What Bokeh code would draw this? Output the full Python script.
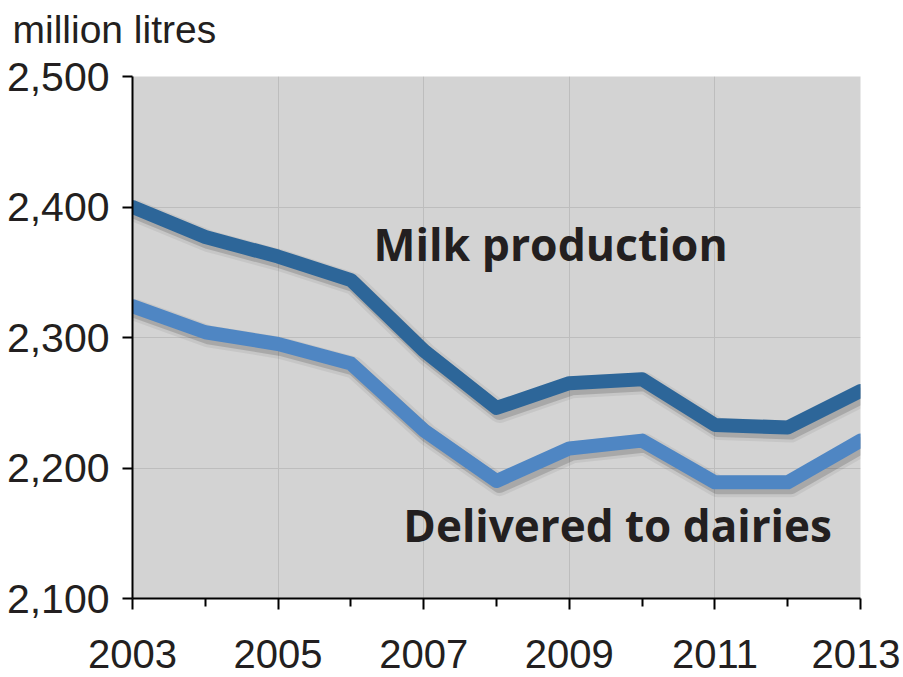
from bokeh.plotting import figure
from bokeh.models import FixedTicker, NumeralTickFormatter, Range1d, Label
from bokeh.embed import file_html
from bokeh.resources import INLINE

years = [2003, 2004, 2005, 2006, 2007, 2008, 2009, 2010, 2011, 2012, 2013]
milk_production = [2400, 2377, 2362, 2344, 2290, 2246, 2265, 2268, 2233, 2231, 2259]
delivered_to_dairies = [2324, 2304, 2295, 2280, 2229, 2190, 2215, 2221, 2189, 2189, 2221]
x_major_ticks = [2003, 2005, 2007, 2009, 2011, 2013]
x_minor_ticks = [2004, 2006, 2008, 2010, 2012]
y_ticks = [2100, 2200, 2300, 2400, 2500]

FONT = "Liberation Sans"
TXT = "#231F20"

p = figure(width=900, height=677, output_backend="svg", toolbar_location=None,
           x_range=Range1d(2003, 2013), y_range=Range1d(2100, 2500),
           min_border_left=132, min_border_right=40, min_border_top=76, min_border_bottom=79)
p.background_fill_color = "#D3D3D3"
p.border_fill_color = "white"
p.outline_line_color = None

# axes
xa = p.xaxis[0]
xa.ticker = FixedTicker(ticks=x_major_ticks, minor_ticks=x_minor_ticks)
xa.major_tick_out = 11
xa.major_tick_in = 0
xa.minor_tick_out = 8
xa.minor_tick_in = 0
xa.axis_line_width = 2
xa.major_tick_line_width = 2
xa.minor_tick_line_width = 2
xa.axis_line_color = "black"
xa.major_tick_line_color = "black"
xa.minor_tick_line_color = "black"
xa.major_label_text_font = FONT
xa.major_label_text_font_size = "40px"
xa.major_label_text_color = TXT
xa.major_label_standoff = 30

ya = p.yaxis[0]
ya.ticker = FixedTicker(ticks=y_ticks, minor_ticks=[])
ya.formatter = NumeralTickFormatter(format="0,0")
ya.major_tick_out = 10
ya.major_tick_in = 0
ya.axis_line_width = 2
ya.major_tick_line_width = 2
ya.axis_line_color = "black"
ya.major_tick_line_color = "black"
ya.major_label_text_font = FONT
ya.major_label_text_font_size = "41px"
ya.major_label_text_color = TXT
ya.major_label_standoff = 13

p.xgrid.grid_line_color = "#BDBDBD"
p.xgrid.grid_line_width = 1
p.ygrid.grid_line_color = "#BDBDBD"
p.ygrid.grid_line_width = 1

# shadow offsets (pixels converted to data units)
dx = 3 * 10 / 728
dy = 4 * 400 / 522

for series, color in [(milk_production, "#2D6699"), (delivered_to_dairies, "#4F86C3")]:
    sx = [x + dx for x in years]
    sy = [y - dy for y in series]
    p.line(sx, sy, line_width=22, line_color="black", line_alpha=0.06, line_cap="round", line_join="round")
    p.line(sx, sy, line_width=16, line_color="black", line_alpha=0.15, line_cap="round", line_join="round")
    p.line(years, series, line_width=14, line_color=color, line_cap="round", line_join="round")

# unit label above the y axis (placed in the top panel, outside the frame)
p.add_layout(Label(x=-120, y=47, x_units="screen", y_units="screen", text="million litres",
                   text_font=FONT, text_font_size="39px", text_color=TXT,
                   text_baseline="alphabetic"), "above")

p.add_layout(Label(x=2006.31, y=2372, text="Milk production", text_font="Open Sans",
                   text_font_style="bold", text_font_size="44.5px", text_color=TXT,
                   text_baseline="alphabetic"))
p.add_layout(Label(x=2006.72, y=2156, text="Delivered to dairies", text_font="Open Sans",
                   text_font_style="bold", text_font_size="44px", text_color=TXT,
                   text_baseline="alphabetic"))

open("out.html", "w").write(file_html(p, INLINE))
